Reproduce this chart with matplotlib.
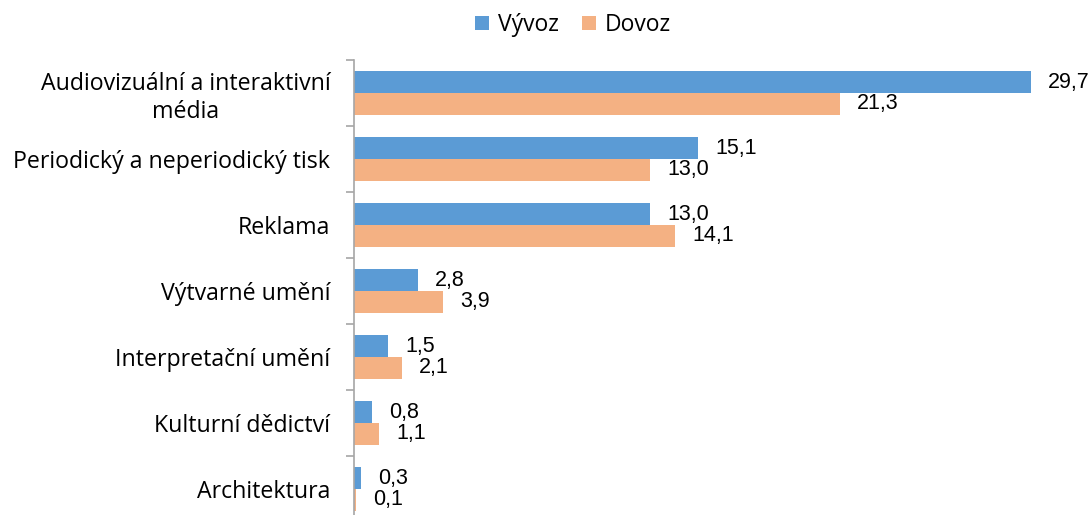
import numpy as np
from matplotlib import pyplot as plt

categories = ['Audiovizuální a interaktivní\nmédia', 'Periodický a neperiodický tisk',
              'Reklama', 'Výtvarné umění', 'Interpretační umění',
              'Kulturní dědictví', 'Architektura']
vyvoz = [29.7, 15.1, 13.0, 2.8, 1.5, 0.8, 0.3]
dovoz = [21.3, 13.0, 14.1, 3.9, 2.1, 1.1, 0.1]

blue = '#5B9BD5'
orange = '#F4B183'
labelFont = 'Open Sans'
numFont = 'Liberation Sans'

fig = plt.figure(figsize=(10.9, 5.15), dpi=100)
ax = fig.add_axes([354/1090, -7/515, 684/1090, 462/515])

pos = np.arange(len(categories))
h = 0.33
ax.barh(pos - h/2, vyvoz, height=h, color=blue, label='Vývoz')
ax.barh(pos + h/2, dovoz, height=h, color=orange, label='Dovoz')

# value labels next to the bar ends
for i in range(len(categories)):
    ax.text(vyvoz[i] + 0.75, pos[i] - h/2, f'{vyvoz[i]:.1f}'.replace('.', ','),
            va='center', ha='left', fontsize=15.5, family=numFont)
    ax.text(dovoz[i] + 0.75, pos[i] + h/2, f'{dovoz[i]:.1f}'.replace('.', ','),
            va='center', ha='left', fontsize=15.5, family=numFont)

ax.set_xlim(0, 30)
ax.set_ylim(6.5, -0.5)
ax.set_xticks([])
ax.set_yticks(pos)
ax.set_yticklabels(categories, family=labelFont, fontsize=16.7, multialignment='center')
ax.set_yticks(np.arange(-0.5, 7, 1), minor=True)
ax.tick_params(axis='y', which='major', length=0, pad=17)
ax.tick_params(axis='y', which='minor', length=6, color='#A6A6A6', width=1.2)
for s in ['top', 'right', 'bottom']:
    ax.spines[s].set_visible(False)
ax.spines['left'].set_color('#A6A6A6')
ax.spines['left'].set_linewidth(1.2)

fig.legend(loc='upper center', bbox_to_anchor=(0.526, 1.015), ncol=2, frameon=False,
           prop={'family': labelFont, 'size': 16.5}, handlelength=0.6, handleheight=0.6,
           handletextpad=0.4, columnspacing=1.0)

plt.savefig('out.png', dpi=100)
